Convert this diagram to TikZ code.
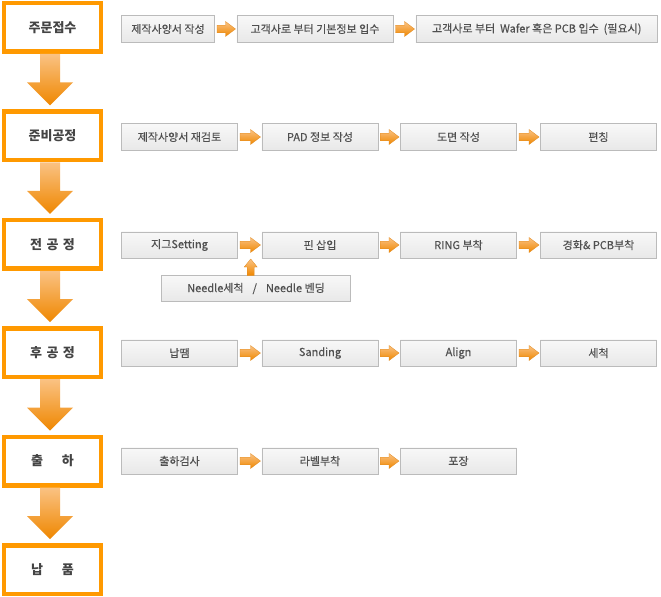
\documentclass[tikz,border=0pt]{standalone}
\usepackage{fontspec}
\setmainfont{Noto Sans CJK KR}
\newfontfamily\stepfnt{Noto Sans CJK KR}[FakeBold=0.25]
\usetikzlibrary{calc}
\definecolor{stageorange}{HTML}{FF9900}
\definecolor{boxgray}{HTML}{BBBBBB}
\definecolor{boxtop}{HTML}{F8F8F8}
\definecolor{boxbottom}{HTML}{E8E8E8}
\definecolor{steptext}{HTML}{505050}
\definecolor{stagetext}{HTML}{444444}
\definecolor{arrlight}{HTML}{FAC283}
\definecolor{arrdark}{HTML}{EF8700}
\definecolor{arredge}{HTML}{E38A1E}
\newcommand\myharr[2]{%
  \shade[smallarrow] let \p1=(#1.east), \p2=(#2.west) in
    (\x1+2bp,\y1-3.8bp) -- (\x2-11bp,\y1-3.8bp) -- (\x2-11bp,\y1-7.5bp) --
    (\x2-1bp,\y1) -- (\x2-11bp,\y1+7.5bp) -- (\x2-11bp,\y1+3.8bp) --
    (\x1+2bp,\y1+3.8bp) -- cycle;}
\newcommand\myvarr[2]{%
  \shade[bigarrow] let \p1=(#1.south), \p2=(#2.north) in
    (\x1-12.5bp,\y1) -- (\x1+7.5bp,\y1) -- (\x1+7.5bp,\y2+27bp) --
    (\x1+20.5bp,\y2+27bp) -- (\x1-2.5bp,\y2+4bp) -- (\x1-25.5bp,\y2+27bp) --
    (\x1-12.5bp,\y2+27bp) -- cycle;}
\newcommand\myuarr[2]{%
  \shade[smallarrow] let \p1=(#1.north), \p2=(#2.south west) in
    (\x2-14.3bp,\y1-0.5bp) -- (\x2-7.3bp,\y1-0.5bp) -- (\x2-7.3bp,\y2-8.5bp) --
    (\x2-4.3bp,\y2-8.5bp) -- (\x2-10.8bp,\y2-0.5bp) -- (\x2-17.3bp,\y2-8.5bp) --
    (\x2-14.3bp,\y2-8.5bp) -- cycle;}
\begin{document}
\begin{tikzpicture}[x=1bp,y=-1bp,
  stage/.style={draw=stageorange, line width=4.5bp, fill=white,
    minimum width=97bp, minimum height=48.5bp, inner sep=0pt,
    font=\fontsize{13bp}{15bp}\selectfont\bfseries, text=stagetext},
  stepbox/.style={draw=boxgray, line width=0.8bp, top color=boxtop,
    bottom color=boxbottom, minimum height=26.2bp, inner sep=0pt,
    font=\stepfnt\fontsize{11bp}{13bp}\selectfont, text=steptext},
  smallarrow/.style={top color=arrlight, bottom color=arrdark, draw=arredge,
    line width=0.3bp},
  bigarrow/.style={top color=arrlight, bottom color=arrdark}]
\useasboundingbox (0,0) rectangle (661,597);
\fill[white] (0,0) rectangle (661,597);
% stages
\node[stage] (s1) at (52.5,27.5) {주문접수};
\node[stage] (s2) at (52.5,135.9) {준비공정};
\node[stage] (s3) at (52.5,244.3) {전\hspace{4.5bp}공\hspace{4.5bp}정};
\node[stage] (s4) at (52.5,352.7) {후\hspace{4.5bp}공\hspace{4.5bp}정};
\node[stage] (s5) at (52.5,461.1) {출\hspace{19bp}하};
\node[stage] (s6) at (52.5,569.5) {납\hspace{19bp}품};
\myvarr{s1}{s2}
\myvarr{s2}{s3}
\myvarr{s3}{s4}
\myvarr{s4}{s5}
\myvarr{s5}{s6}
% row 1
\node[stepbox, minimum width=93.2bp] (a1) at (168,29) {제작사양서 작성};
\node[stepbox, minimum width=156.2bp] (a2) at (315,29) {고객사로 부터 기본정보 입수};
\node[stepbox, minimum width=241.7bp] (a3) at (536.75,29) {고객사로 부터~ Wafer 혹은 PCB 입수~ (필요시)};
\myharr{a1}{a2}
\myharr{a2}{a3}
% row 2
\node[stepbox, minimum width=116.2bp] (b1) at (179.5,137) {제작사양서 재검토};
\node[stepbox, minimum width=116.2bp] (b2) at (320,137) {PAD 정보 작성};
\node[stepbox, minimum width=116.2bp] (b3) at (458.5,137) {도면 작성};
\node[stepbox, minimum width=116.2bp] (b4) at (598.5,137) {편칭};
\myharr{b1}{b2}
\myharr{b2}{b3}
\myharr{b3}{b4}
% row 3
\node[stepbox, minimum width=116.2bp] (c1) at (179.5,245) {지그Setting};
\node[stepbox, minimum width=116.2bp] (c2) at (320,245) {핀 삽입};
\node[stepbox, minimum width=116.2bp] (c3) at (458.5,245) {RING 부착};
\node[stepbox, minimum width=116.2bp] (c4) at (598.5,245) {경화\& PCB부착};
\node[stepbox, minimum width=189.2bp] (cn) at (256,288.5) {Needle세척\hspace{9bp}/\hspace{9bp}Needle 벤딩};
\myharr{c1}{c2}
\myharr{c2}{c3}
\myharr{c3}{c4}
\myuarr{cn}{c2}
% row 4
\node[stepbox, minimum width=116.2bp] (d1) at (179.5,353) {납땜};
\node[stepbox, minimum width=116.2bp] (d2) at (320,353) {Sanding};
\node[stepbox, minimum width=116.2bp] (d3) at (458.5,353) {Align};
\node[stepbox, minimum width=116.2bp] (d4) at (598.5,353) {세척};
\myharr{d1}{d2}
\myharr{d2}{d3}
\myharr{d3}{d4}
% row 5
\node[stepbox, minimum width=116.2bp] (e1) at (179.5,461) {출하검사};
\node[stepbox, minimum width=116.2bp] (e2) at (320,461) {라벨부착};
\node[stepbox, minimum width=116.2bp] (e3) at (458.5,461) {포장};
\myharr{e1}{e2}
\myharr{e2}{e3}
\end{tikzpicture}
\end{document}
